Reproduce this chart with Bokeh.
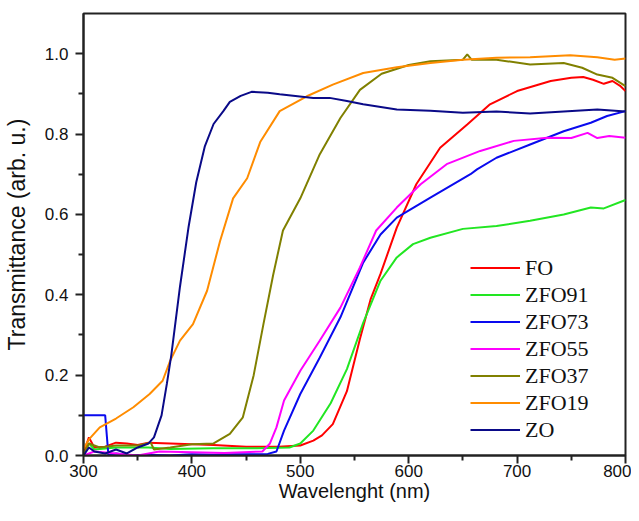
from bokeh.plotting import figure
from bokeh.embed import file_html
from bokeh.resources import INLINE
from bokeh.models import Legend, LegendItem, FixedTicker

# ---- data ----
fo_x = [300, 305, 310, 320, 330, 340, 350, 360, 380, 400, 420, 450, 480, 500, 512, 520, 530, 543, 555,
        565, 574, 589, 607, 629, 654, 675, 700, 731, 750, 761, 770, 780, 788, 795, 800]
fo_y = [0.005, 0.045, 0.02, 0.022, 0.032, 0.03, 0.026, 0.032, 0.03, 0.028, 0.026, 0.022, 0.022, 0.025, 0.037,
        0.05, 0.078, 0.16, 0.29, 0.39, 0.452, 0.567, 0.675, 0.766, 0.824, 0.874, 0.907, 0.932, 0.94, 0.942,
        0.935, 0.925, 0.932, 0.92, 0.907]

zfo91_x = [300, 305, 310, 330, 360, 380, 420, 460, 490, 500, 512, 528, 543, 558, 574, 589, 604, 620, 650,
           681, 712, 743, 768, 780, 800]
zfo91_y = [0.0, 0.03, 0.015, 0.02, 0.02, 0.016, 0.018, 0.018, 0.02, 0.03, 0.062, 0.13, 0.215, 0.33, 0.435,
           0.493, 0.526, 0.542, 0.564, 0.571, 0.584, 0.6, 0.617, 0.615, 0.636]

zfo73_x = [300, 320, 323, 330, 345, 360, 380, 400, 420, 440, 460, 470, 478, 485, 500, 518, 537, 558, 574,
           589, 620, 657, 663, 681, 712, 743, 768, 783, 800]
zfo73_y = [0.1, 0.1, 0.0, 0.005, 0.0, 0.002, 0.0, 0.003, 0.002, 0.003, 0.003, 0.004, 0.01, 0.062, 0.153,
           0.244, 0.344, 0.48, 0.55, 0.592, 0.642, 0.7, 0.712, 0.741, 0.774, 0.807, 0.828, 0.845, 0.857]

zfo55_x = [300, 310, 330, 350, 370, 400, 430, 465, 472, 478, 485, 500, 518, 537, 555, 570, 589, 611, 635,
           666, 697, 728, 750, 765, 774, 785, 800]
zfo55_y = [0.0, 0.01, 0.005, 0.0, 0.01, 0.008, 0.006, 0.01, 0.03, 0.07, 0.137, 0.211, 0.286, 0.368, 0.468,
           0.56, 0.617, 0.675, 0.725, 0.758, 0.783, 0.791, 0.79, 0.803, 0.79, 0.795, 0.791]

zfo37_x = [300, 305, 315, 330, 350, 362, 365, 380, 400, 420, 435, 447, 457, 466, 475, 484, 500, 518, 537,
           555, 575, 600, 620, 650, 654, 658, 681, 712, 743, 760, 774, 788, 800]
zfo37_y = [0.0, 0.03, 0.02, 0.025, 0.025, 0.032, 0.015, 0.02, 0.028, 0.03, 0.054, 0.095, 0.2, 0.327, 0.45,
           0.56, 0.64, 0.75, 0.84, 0.91, 0.95, 0.972, 0.981, 0.985, 0.998, 0.985, 0.985, 0.973, 0.977,
           0.965, 0.948, 0.94, 0.919]

zfo19_x = [300, 305, 315, 330, 346, 361, 373, 380, 389, 401, 414, 426, 438, 451, 463, 481, 506, 530, 558,
           589, 620, 650, 681, 712, 749, 774, 790, 800]
zfo19_y = [0.017, 0.04, 0.07, 0.092, 0.12, 0.153, 0.186, 0.236, 0.286, 0.327, 0.41, 0.534, 0.64, 0.69,
           0.78, 0.857, 0.894, 0.923, 0.952, 0.966, 0.977, 0.985, 0.99, 0.991, 0.996, 0.991, 0.985, 0.988]

zo_x = [300, 305, 310, 320, 330, 340, 350, 360, 365, 372, 377, 381, 389, 397, 404, 412, 420, 429, 435,
        445, 455, 470, 481, 512, 527, 543, 558, 589, 620, 650, 681, 712, 743, 774, 800]
zo_y = [0.0, 0.02, 0.01, 0.005, 0.015, 0.005, 0.02, 0.03, 0.045, 0.1, 0.18, 0.25, 0.42, 0.57, 0.68, 0.77,
        0.825, 0.857, 0.88, 0.895, 0.905, 0.903, 0.899, 0.89, 0.89, 0.882, 0.874, 0.861, 0.858, 0.853,
        0.856, 0.851, 0.856, 0.861, 0.856]

names = ["FO", "ZFO91", "ZFO73", "ZFO55", "ZFO37", "ZFO19", "ZO"]
colors = ["#ff0000", "#22e622", "#0a0aee", "#ff00ff", "#808000", "#ff8c00", "#0a0a88"]
series = [(fo_x, fo_y), (zfo91_x, zfo91_y), (zfo73_x, zfo73_y), (zfo55_x, zfo55_y),
          (zfo37_x, zfo37_y), (zfo19_x, zfo19_y), (zo_x, zo_y)]

x_ticks = [300, 400, 500, 600, 700, 800]
y_ticks = [0.0, 0.2, 0.4, 0.6, 0.8, 1.0]

p = figure(width=631, height=505, x_range=(300, 800), y_range=(0, 1.1),
           output_backend="svg", toolbar_location=None,
           min_border_left=83, min_border_right=6, min_border_top=13, min_border_bottom=50)

p.grid.visible = False
p.background_fill_color = "white"
p.border_fill_color = "white"
p.outline_line_color = "#222222"
p.outline_line_width = 2

renderers = []
for (xs, ys), c in zip(series, colors):
    r = p.line(xs, ys, line_color=c, line_width=2)
    renderers.append(r)

legend = Legend(items=[LegendItem(label=n, renderers=[r]) for n, r in zip(names, renderers)],
                location=(387, 12), padding=0, margin=0, spacing=0,
                glyph_width=50, glyph_height=27, label_height=27, label_standoff=5,
                label_text_font="Liberation Serif", label_text_font_size="22px",
                label_text_color="#111111",
                background_fill_alpha=0, border_line_alpha=0)
p.add_layout(legend)

for ax in (p.xaxis[0], p.yaxis[0]):
    ax.axis_line_width = 2
    ax.axis_line_color = "#222222"
    ax.major_tick_line_width = 2
    ax.minor_tick_line_width = 2
    ax.major_tick_line_color = "#222222"
    ax.minor_tick_line_color = "#222222"
    ax.major_tick_out = 8
    ax.major_tick_in = 0
    ax.minor_tick_out = 5
    ax.minor_tick_in = 0
    ax.major_label_text_font = "Liberation Sans"
    ax.major_label_text_font_size = "17px"
    ax.major_label_text_color = "#111111"
    ax.axis_label_text_font = "Liberation Sans"
    ax.axis_label_text_font_style = "normal"
    ax.axis_label_text_color = "#111111"

p.xaxis.ticker = FixedTicker(ticks=x_ticks, minor_ticks=[350, 450, 550, 650, 750])
p.yaxis.ticker = FixedTicker(ticks=y_ticks, minor_ticks=[0.1, 0.3, 0.5, 0.7, 0.9])
p.xaxis.major_label_overrides = {t: str(t) for t in x_ticks}
p.yaxis.major_label_overrides = {t: f"{t:.1f}" for t in y_ticks}
p.xaxis.axis_label = "Wavelenght (nm)"
p.yaxis.axis_label = "Transmittance (arb. u.)"
p.xaxis.axis_label_text_font_size = "20px"
p.yaxis.axis_label_text_font_size = "23px"
p.xaxis.major_label_standoff = 1
p.xaxis.axis_label_standoff = 0
p.yaxis.major_label_standoff = 7
p.yaxis.axis_label_standoff = 12

open("out.html", "w").write(file_html(p, INLINE))
